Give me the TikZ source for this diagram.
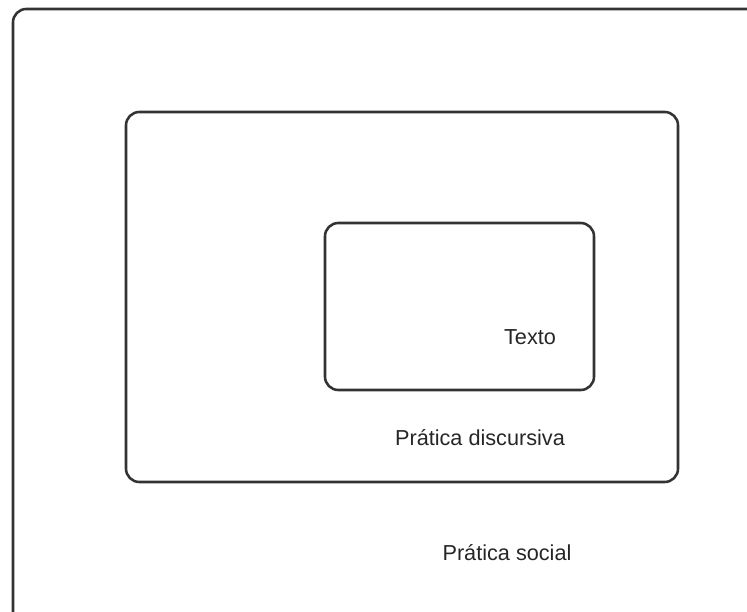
\documentclass[tikz,border=0pt]{standalone}
\usepackage{fontspec}
\setmainfont{Liberation Sans}
\begin{document}
\begin{tikzpicture}[
    caixa/.style={line width=2.2pt, draw=black!80, rounded corners=0.4cm},
    rotulo/.style={font=\fontsize{18.5}{22}\selectfont, text=black!85}
]
                                \clip (0,0) rectangle (22.41,18.33);

                                \draw[caixa] (0.39,-0.5) rectangle (23.0,18.06);
                                \draw[caixa] (3.78,3.87) rectangle (20.34,14.97);
                                \draw[caixa] (9.75,6.63) rectangle (17.82,11.64);

                                \node[rotulo] (texto) at (15.9,8.22) {Texto};
                                \node[rotulo] (discursiva) at (14.4,5.19) {Prática discursiva};
                                \node[rotulo] (social) at (15.21,1.74) {Prática social};
                            \end{tikzpicture}
\end{document}
